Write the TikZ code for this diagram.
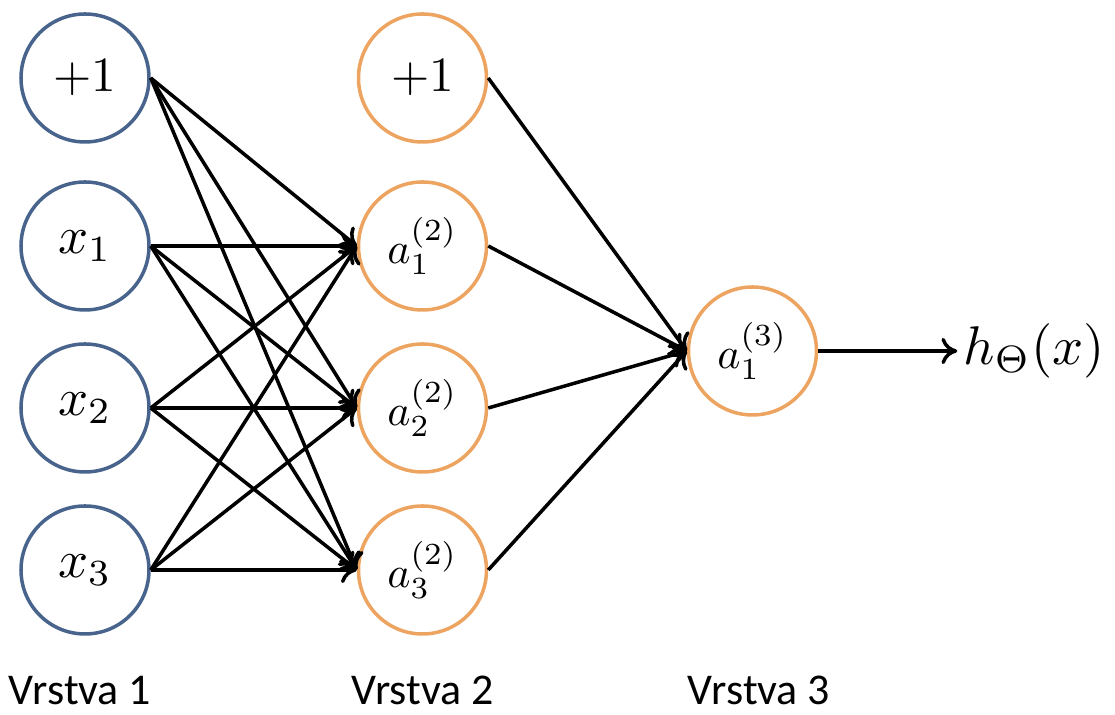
\documentclass[tikz,border=0pt]{standalone}
\usepackage{amsmath,graphicx}
\usepackage{fontspec}
\newfontfamily\labelfont{Carlito}
\usepackage{xcolor}
\usepackage{tikz}
\usetikzlibrary{arrows.meta}
\definecolor{inblue}{RGB}{72,100,140}
\definecolor{hidorange}{RGB}{236,164,96}
\newcommand{\unitlbl}[2]{\scalebox{#1}{$#2$}}

\begin{document}
\begin{tikzpicture}[
    innode/.style={draw=inblue,circle,line width=2pt,minimum size=2.56cm},
    hidnode/.style={draw=hidorange,circle,line width=2pt,minimum size=2.56cm},
    wire/.style={-{To[length=9pt,width=15pt]},line width=2pt},
    layer/.style={anchor=base,font=\labelfont\fontsize{25}{28}\selectfont}]
    \useasboundingbox (0,0) rectangle (22.3,14.3);
    % layer 1
    \node[innode] (b1) at (1.7,12.74) {\unitlbl{2.8}{+1}};
    \node[innode] (x1) at (1.7,9.38) {\unitlbl{3}{x_1}};
    \node[innode] (x2) at (1.7,6.14) {\unitlbl{3}{x_2}};
    \node[innode] (x3) at (1.7,2.9) {\unitlbl{3}{x_3}};
    % layer 2
    \node[hidnode] (b2) at (8.45,12.74) {\unitlbl{2.8}{+1}};
    \node[hidnode] (a1) at (8.45,9.38) {\unitlbl{2.5}{a_1^{(2)}}};
    \node[hidnode] (a2) at (8.45,6.14) {\unitlbl{2.5}{a_2^{(2)}}};
    \node[hidnode] (a3) at (8.45,2.9) {\unitlbl{2.5}{a_3^{(2)}}};
    % layer 3
    \node[hidnode] (o1) at (15.05,7.28) {\unitlbl{2.5}{a_1^{(3)}}};
    \node (h) at (20.68,7.28) {\unitlbl{3.1}{h_\Theta(x)}};
    % edges
    \draw[wire] (b1.east) to (a1.west);
    \draw[wire] (b1.east) to (a2.west);
    \draw[wire] (b1.east) to (a3.west);
    \draw[wire] (x1.east) to (a1.west);
    \draw[wire] (x1.east) to (a2.west);
    \draw[wire] (x1.east) to (a3.west);
    \draw[wire] (x2.east) to (a1.west);
    \draw[wire] (x2.east) to (a2.west);
    \draw[wire] (x2.east) to (a3.west);
    \draw[wire] (x3.east) to (a1.west);
    \draw[wire] (x3.east) to (a2.west);
    \draw[wire] (x3.east) to (a3.west);
    \draw[wire] (b2.east) to (o1.west);
    \draw[wire] (a1.east) to (o1.west);
    \draw[wire] (a2.east) to (o1.west);
    \draw[wire] (a3.east) to (o1.west);
    \draw[wire] (o1.east) to (h.west);
    % labels
    \node[layer] (v1) at (1.6,0.2) {Vrstva 1};
    \node[layer] (v2) at (8.45,0.2) {Vrstva 2};
    \node[layer] (v3) at (15.18,0.2) {Vrstva 3};
\end{tikzpicture}
\end{document}
